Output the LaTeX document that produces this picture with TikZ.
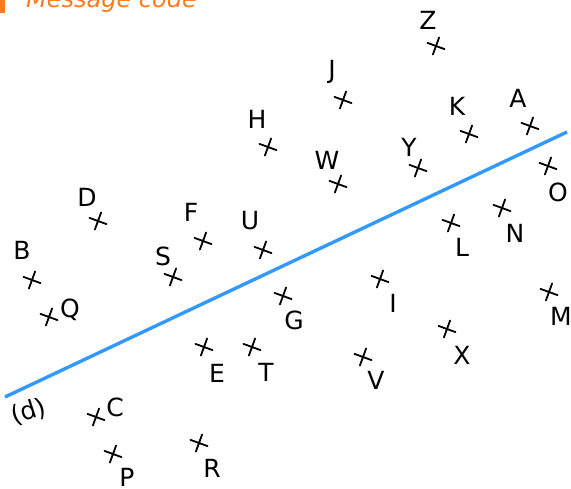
\documentclass[tikz,border=0pt]{standalone}
\usepackage{fontspec}
\setmainfont{DejaVu Sans}
\definecolor{lineblue}{RGB}{51,153,255}
\definecolor{msgorange}{RGB}{255,122,30}
\begin{document}
\begin{tikzpicture}[x=1pt,y=-1pt,
  lab/.style={inner sep=0pt,font=\fontsize{25}{29}\selectfont},
  crossmark/.pic={\draw[line width=1.8pt,line cap=round] (-8.5,-3.1) -- (8.5,3.1) (3.1,-8.5) -- (-3.1,8.5);}]
\useasboundingbox (0,0) rectangle (571,489);
\begin{scope}
\clip (0,0) rectangle (571,489);
\fill[msgorange] (0,-2) rectangle (4.5,13);
\node[anchor=base west,inner sep=0pt,text=msgorange,font=\fontsize{24}{28}\selectfont\itshape] (msg) at (26,8) {Message code};
\end{scope}
% line (d)
\coordinate (d1) at (5,397);
\coordinate (d2) at (567,132);
\draw[lineblue,line width=3.4pt] (d1) -- (d2);
\node[lab,rotate=18] (dl) at (29,412) {(d)};
% points
\foreach \n/\cx/\cy/\lx/\ly in {
 Z/436/46/428/20, J/343/100/332/72, H/268/147/257/119, K/469/134/457/106,
 A/530/126/518/98, W/338/184/327/160, Y/418/168/409/147, O/548/166/558/192,
 D/98/221/87/197, F/203/241/191/212, U/263/250/250/221, N/502/208/515/233,
 L/451/223/462/247, B/32/280/22/250, S/173/277/163/256, Q/49/317/70/310,
 G/283/296/294/320, I/380/279/393/303, M/549/292/561/316, X/447/329/462/355,
 E/204/347/217/373, T/252/347/266/372, V/363/357/376/380, C/96/417/115/407,
 P/113/454/127/477, R/199/443/212/468}{
  \coordinate (p\n) at (\cx,\cy);
  \pic at (p\n) {crossmark};
  \node[lab] (l\n) at (\lx,\ly) {\n};
}
\end{tikzpicture}
\end{document}
